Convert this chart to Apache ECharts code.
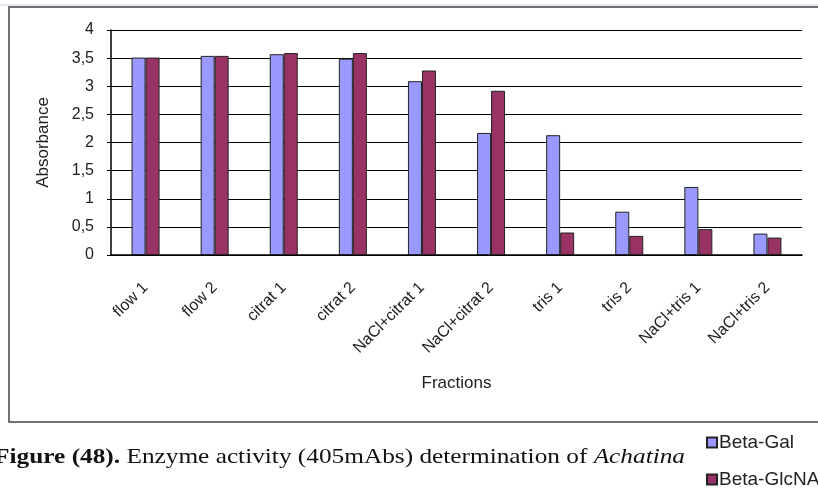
<!DOCTYPE html>
<html>
<head>
<meta charset="utf-8">
<script src="https://cdn.jsdelivr.net/npm/echarts@6/dist/echarts.min.js"></script>
<style>html,body{margin:0;padding:0;background:#fff;}#c{width:818px;height:488px;}</style>
</head>
<body>
<div id="c"></div>
<script>
const categories = ['flow 1','flow 2','citrat 1','citrat 2','NaCl+citrat 1','NaCl+citrat 2','tris 1','tris 2','NaCl+tris 1','NaCl+tris 2'];
const betaGal = [3.51, 3.54, 3.57, 3.49, 3.09, 2.17, 2.13, 0.77, 1.21, 0.38];
const betaGlcNAc = [3.51, 3.54, 3.59, 3.59, 3.28, 2.92, 0.40, 0.34, 0.46, 0.31];
const seriesNames = ['Beta-Gal', 'Beta-GlcNAc'];
const yTicks = [0, 0.5, 1, 1.5, 2, 2.5, 3, 3.5, 4];

const chart = echarts.init(document.getElementById('c'), null, {renderer: 'canvas'});
const fmt = v => String(v).replace('.', ',');
const FONT = 'Arial, Liberation Sans';
const legendBase = {
  orient: 'vertical', left: 701, itemWidth: 10, itemHeight: 10,
  icon: 'rect',
  textStyle: {fontFamily: FONT, fontSize: 19, color: '#222', padding: [0,0,0,-3]}
};
chart.setOption({
  animation: false,
  backgroundColor: '#fff',
  grid: {left: 111, right: 16, top: 30, bottom: 233, containLabel: false},
  legend: [
    Object.assign({}, legendBase, {top: 428, data: [seriesNames[0]]}),
    Object.assign({}, legendBase, {top: 465, data: [seriesNames[1]]})
  ],
  xAxis: {
    type: 'category', data: categories,
    name: 'Fractions', nameLocation: 'middle', nameGap: 120,
    nameTextStyle: {fontFamily: FONT, fontSize: 17, color: '#222'},
    axisLine: {lineStyle: {color: '#000', width: 1.5}},
    axisTick: {show: false},
    axisLabel: {rotate: 45, margin: 30, interval: 0, fontFamily: FONT, fontSize: 16, color: '#222'}
  },
  yAxis: {
    type: 'value', min: 0, max: 4, interval: 0.5,
    name: 'Absorbance', nameLocation: 'middle', nameGap: 59, nameRotate: 90,
    nameTextStyle: {fontFamily: FONT, fontSize: 17, color: '#222'},
    axisLine: {show: true, lineStyle: {color: '#000', width: 1.5}},
    axisTick: {show: true, length: 4, lineStyle: {color: '#000'}},
    axisLabel: {margin: 17, fontFamily: FONT, fontSize: 16, color: '#222',
      formatter: v => yTicks.includes(v) ? fmt(v) : ''},
    splitLine: {lineStyle: {color: '#000', width: 1.2}}
  },
  series: [
    {name: seriesNames[0], type: 'bar', data: betaGal, barWidth: 14, barGap: '0%',
     itemStyle: {color: '#9999FF', borderColor: '#222', borderWidth: 1}},
    {name: seriesNames[1], type: 'bar', data: betaGlcNAc, barWidth: 14, barGap: '0%',
     itemStyle: {color: '#993366', borderColor: '#222', borderWidth: 1}}
  ],
  graphic: [
    {type: 'line', shape: {x1: 0, y1: 5, x2: 818, y2: 5}, style: {stroke: '#c9d2e6', lineWidth: 1}, silent: true},
    {type: 'rect', shape: {x: 9, y: 7, width: 830, height: 415}, style: {fill: 'none', stroke: '#444', lineWidth: 1.5}, silent: true, z: -1},
    {type: 'text', x: 685, y: 457, scaleX: 1.15, silent: true,
     style: {
       text: '{b|Figure (48).} Enzyme activity (405mAbs) determination of {i|Achatina}',
       align: 'right', verticalAlign: 'middle',
       fontFamily: 'Liberation Serif, Times New Roman, serif', fontSize: 22, fill: '#111',
       rich: {
         b: {fontWeight: 'bold', fontFamily: 'Liberation Serif, Times New Roman, serif', fontSize: 22, fill: '#111'},
         i: {fontStyle: 'italic', fontFamily: 'Liberation Serif, Times New Roman, serif', fontSize: 22, fill: '#111'}
       }
     }}
  ]
});
</script>
</body>
</html>
